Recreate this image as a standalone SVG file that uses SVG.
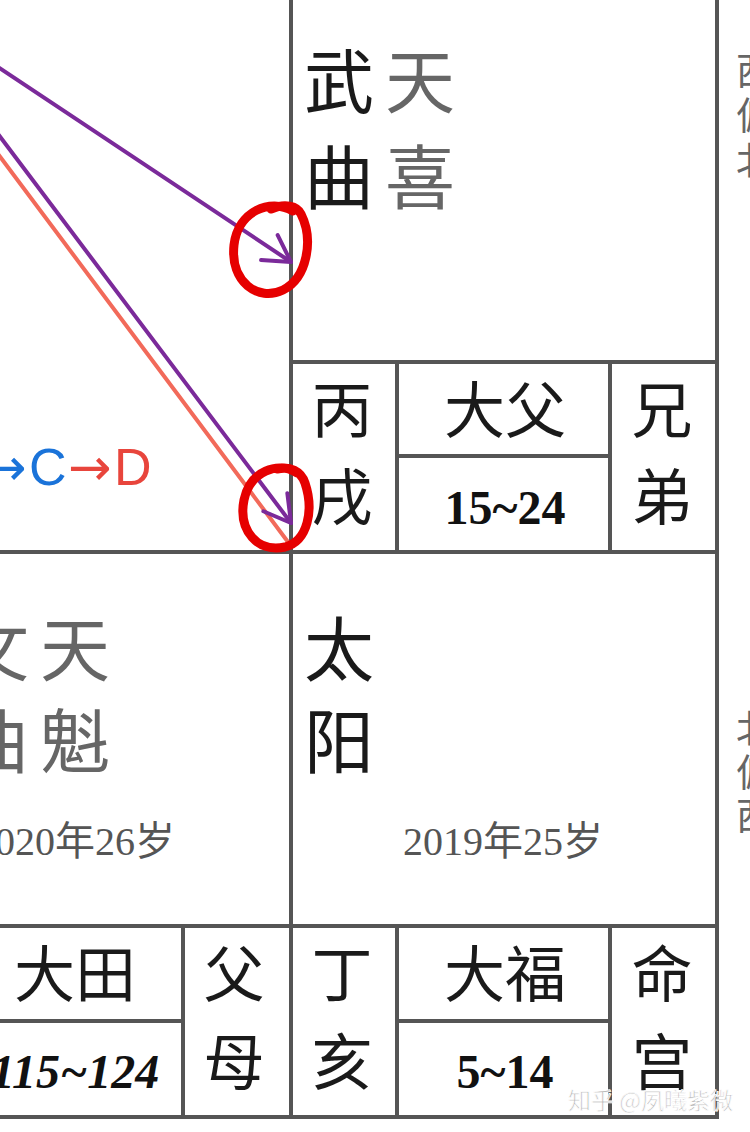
<svg xmlns="http://www.w3.org/2000/svg" width="750" height="1132" viewBox="0 0 750 1132">
<style>
.grid{stroke:#555;stroke-width:4;fill:none}
.cjk{font-family:"Noto Sans CJK SC","Noto Sans",sans-serif}
.big{font-size:70px}
.mid{font-size:61px}
.dark{fill:#1a1a1a}
.grey{fill:#666}
.num{font-family:"Liberation Serif","Noto Sans CJK SC",serif;font-weight:bold;font-size:48px;fill:#111}
.year{font-family:"Liberation Serif","Noto Sans CJK SC",serif;font-size:40px;fill:#555}
.side{font-family:"Noto Sans CJK SC",sans-serif;font-size:38px;fill:#666}
.circle{fill:none;stroke:#e60000;stroke-width:9;stroke-linecap:round}
</style>
<defs>
<marker id="vhead" markerUnits="userSpaceOnUse" markerWidth="40" markerHeight="40" viewBox="-30 -20 34 40" refX="0" refY="0" orient="auto">
<path d="M-26,-15 L0,0 L-26,15" fill="none" stroke="#7b2a9a" stroke-width="4" stroke-linecap="round" stroke-linejoin="round"/>
</marker>
</defs>
<rect width="750" height="1132" fill="#fff"/>

<g id="grid" class="grid">
<line x1="291" y1="0" x2="291" y2="1119"/>
<line x1="717" y1="0" x2="717" y2="1119"/>
<line x1="291" y1="362" x2="717" y2="362"/>
<line x1="0" y1="552" x2="719" y2="552"/>
<line x1="0" y1="926" x2="719" y2="926"/>
<line x1="0" y1="1117" x2="719" y2="1117"/>
<line x1="397" y1="362" x2="397" y2="552"/>
<line x1="610" y1="362" x2="610" y2="552"/>
<line x1="397" y1="456" x2="610" y2="456"/>
<line x1="397" y1="926" x2="397" y2="1117"/>
<line x1="610" y1="926" x2="610" y2="1117"/>
<line x1="397" y1="1021" x2="610" y2="1021"/>
<line x1="183" y1="926" x2="183" y2="1117"/>
<line x1="0" y1="1021" x2="183" y2="1021"/>
</g>

<g id="palace-xu-stars" class="cjk big">
<text x="304" y="108" class="dark">武</text>
<text x="385" y="108" class="grey">天</text>
<text x="304" y="204" class="dark">曲</text>
<text x="385" y="204" class="grey">喜</text>
</g>

<g id="palace-xu-info" class="cjk mid dark" text-anchor="middle">
<text x="342" y="433">丙</text>
<text x="342" y="520">戌</text>
<text x="505" y="433">大父</text>
<text x="662" y="433">兄</text>
<text x="662" y="520">弟</text>
</g>
<text id="range-xu" class="num" x="505" y="524" text-anchor="middle">15~24</text>

<g id="palace-you-stars" class="cjk big grey">
<text x="-41" y="676">文</text>
<text x="40" y="676">天</text>
<text x="-41" y="768">曲</text>
<text x="40" y="768">魁</text>
</g>
<text id="year-you" class="year" x="75" y="855" text-anchor="middle">2020年26岁</text>

<g id="palace-hai-stars" class="cjk big dark">
<text x="304" y="676">太</text>
<text x="304" y="768">阳</text>
</g>
<text id="year-hai" class="year" x="503" y="855" text-anchor="middle">2019年25岁</text>

<g id="palace-you-info" class="cjk mid dark" text-anchor="middle">
<text x="75" y="997">大田</text>
<text x="234" y="997">父</text>
<text x="234" y="1085">母</text>
</g>
<text id="range-you" class="num" x="75" y="1088" text-anchor="middle" font-style="italic">115~124</text>

<g id="palace-hai-info" class="cjk mid dark" text-anchor="middle">
<text x="342" y="997">丁</text>
<text x="342" y="1085">亥</text>
<text x="505" y="997">大福</text>
<text x="662" y="997">命</text>
<text x="662" y="1085">宫</text>
</g>
<text id="range-hai" class="num" x="505" y="1088" text-anchor="middle">5~14</text>

<g id="side-top" class="side">
<text x="736" y="84">西</text>
<text x="736" y="129">偏</text>
<text x="736" y="174">北</text>
</g>
<g id="side-bottom" class="side">
<text x="736" y="742">北</text>
<text x="736" y="786">偏</text>
<text x="736" y="829">西</text>
</g>

<g id="legend" font-family="'DejaVu Sans','Liberation Sans',sans-serif" font-size="52">
<text y="485" fill="#1a73d9"><tspan x="-17">→</tspan><tspan x="29" font-family="'Liberation Sans',sans-serif">C</tspan></text>
<text y="485" fill="#e8453c"><tspan x="68">→</tspan><tspan x="114" font-family="'Liberation Sans',sans-serif">D</tspan></text>
</g>

<g id="connectors" fill="none" stroke-width="4" stroke-linecap="round">
<line x1="-5" y1="150" x2="288" y2="542" stroke="#f26a5a"/>
<line x1="-5" y1="65" x2="291" y2="262" stroke="#7b2a9a" marker-end="url(#vhead)"/>
<line x1="-5" y1="130" x2="291" y2="523" stroke="#7b2a9a" marker-end="url(#vhead)"/>
</g>

<g id="highlights">
<path class="circle" d="M293,211 C270,198 238,211 234,245 C230,282 258,302 283,290 C307,278 314,240 301,214 C297,206 285,203 271,209"/>
<path class="circle" d="M297,473 C278,461 250,471 244,500 C238,531 258,553 285,547 C308,541 314,510 305,483 C301,471 290,466 277,469"/>
</g>

<text id="watermark" x="568" y="1109" font-family="'Noto Sans CJK SC',sans-serif" font-size="23" fill="#b8b8b8" stroke="#fff" stroke-width="0.8">知乎 @夙曦紫微</text>
</svg>
